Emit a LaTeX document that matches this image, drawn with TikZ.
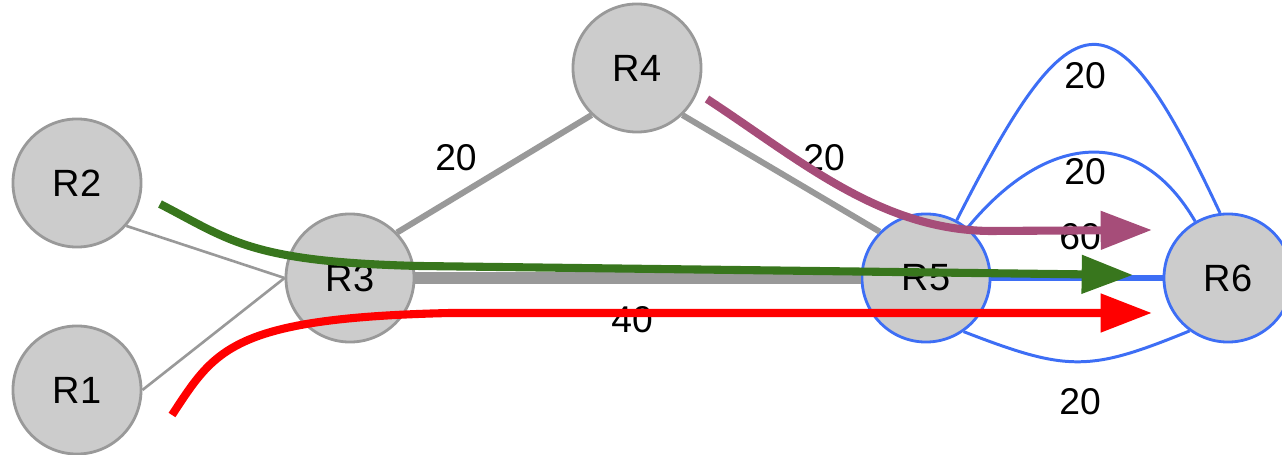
\documentclass[tikz,border=0pt]{standalone}
\usepackage{fontspec}
\setmainfont{Liberation Sans}
\usetikzlibrary{arrows.meta}

\definecolor{linkgray}{HTML}{999999}
\definecolor{nodegray}{HTML}{CCCCCC}
\definecolor{linkblue}{HTML}{3D6EF5}
\definecolor{flowpurple}{HTML}{A64D79}
\definecolor{flowgreen}{HTML}{38761D}
\definecolor{flowred}{HTML}{FF0000}

\begin{document}
\begin{tikzpicture}[x=0.01cm,y=-0.01cm,
        router/.style={circle,draw=linkgray,fill=nodegray,line width=0.8pt,minimum size=1.28cm,inner sep=0pt,font=\fontsize{10.8}{12}\selectfont},
        bluerouter/.style={router,draw=linkblue},
        weight/.style={inner sep=0pt,font=\fontsize{10.6}{12}\selectfont},
        thinlink/.style={draw=linkgray,line width=0.75pt},
        link/.style={draw=linkgray,line width=1.7pt},
        fatlink/.style={draw=linkgray,line width=3.4pt},
        bluelink/.style={draw=linkblue,line width=0.85pt},
        fatbluelink/.style={draw=linkblue,line width=1.7pt},
        flow/.style={line width=2.3pt,-{Triangle[length=14.6pt,width=10.5pt]}}]
        \useasboundingbox (0,0) rectangle (1282,455);

        \node[router] (R1) at (77,390) {R1};
        \node[router] (R2) at (77,183) {R2};
        \node[router] (R3) at (350,278) {R3};
        \node[router] (R4) at (637,68) {R4};
        \node[bluerouter] (R5) at (926,278) {R5};
        \node[bluerouter] (R6) at (1228,278) {R6};

        \draw[thinlink] (R2.-41) -- (R3.west);
        \draw[thinlink] (R1.east) -- (R3.west);
        \draw[link] (R3.44) -- (R4.226);
        \draw[link] (R4.-46) -- (R5.135);
        \draw[fatlink] (R3) -- (R5);
        \draw[fatbluelink] (R5) -- (R6);
        \draw[bluelink] (R5.62) .. controls (1075,-13) and (1114,-13) .. (R6.97);
        \draw[bluelink] (R5) .. controls (1050,128) and (1141,128) .. (R6);
        \draw[bluelink] (R5.-55) .. controls (1068,372) and (1089,372) .. (R6.-126);

        \node[weight] (w34) at (456,158) {20};
        \node[weight] (w45) at (824,158) {20};
        \node[weight] (w35) at (632,320) {40};
        \node[weight] (w56) at (1080,237) {60};
        \node[weight] (w56top) at (1085,76) {20};
        \node[weight] (w56mid) at (1085,172) {20};
        \node[weight] (w56low) at (1080,402) {20};

        \coordinate (p0) at (707,99);   \coordinate (p1) at (990,231);  \coordinate (p2) at (1152,230);
        \coordinate (g0) at (160,204);  \coordinate (g1) at (420,266);  \coordinate (g2) at (1133,275);
        \coordinate (r0) at (172,415);  \coordinate (r1) at (450,313);  \coordinate (r2) at (1152,313);

        \draw[flow,flowpurple] (p0) .. controls (800,160) and (880,230) .. (p1) -- (p2);
        \draw[flow,flowgreen] (g0) .. controls (230,240) and (250,262) .. (g1) -- (g2);
        \draw[flow,flowred] (r0) .. controls (215,350) and (230,318) .. (r1) -- (r2);
\end{tikzpicture}
\end{document}
